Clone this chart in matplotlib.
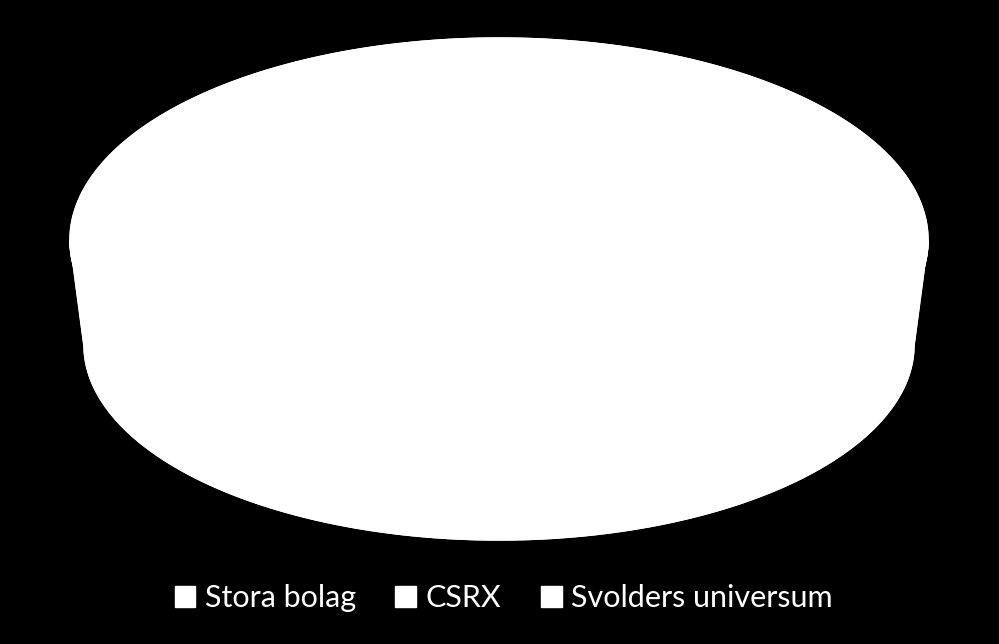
import numpy as np
import matplotlib.pyplot as plt
from matplotlib.patches import Polygon, Patch

# Slices (all drawn white in the original, so sizes are an estimate)
labels = ['Stora bolag', 'CSRX', 'Svolders universum']
values = [45, 20, 35]
colors = ['white', 'white', 'white']

# 3D pie geometry (pixel coordinates, y down)
cx = 499
top_cy, top_a, top_b = 240, 429, 202
bot_cy, bot_a, bot_b = 345, 415, 195
start_angle = 90  # degrees

fig = plt.figure(figsize=(9.99, 6.44), dpi=100, facecolor='black')
ax = fig.add_axes([0, 0, 1, 1])
ax.set_facecolor('black')
ax.set_xlim(0, 999)
ax.set_ylim(644, 0)
ax.axis('off')


def ell(t, cy, a, b):
    return np.column_stack([cx + a * np.cos(t), cy - b * np.sin(t)])


# solid silhouette underneath so wedge seams don't show
t_all = np.linspace(0, 2 * np.pi, 400)
t_front = np.linspace(np.pi, 2 * np.pi, 200)
ax.add_patch(Polygon(np.vstack([ell(t_front, top_cy, top_a, top_b),
                                ell(t_front[::-1], bot_cy, bot_a, bot_b)]),
                     closed=True, facecolor='white', edgecolor='white', lw=1))
ax.add_patch(Polygon(ell(t_all, top_cy, top_a, top_b), closed=True,
                     facecolor='white', edgecolor='white', lw=1))

fracs = np.array(values, dtype=float) / sum(values)
bounds = np.radians(start_angle) - 2 * np.pi * np.concatenate([[0], np.cumsum(fracs)])

for i, col in enumerate(colors):
    t0, t1 = bounds[i + 1], bounds[i]
    t = np.linspace(t0, t1, 200)
    tt = np.mod(t, 2 * np.pi)
    front = t[tt > np.pi]
    if len(front) > 1:
        side = np.vstack([ell(front, top_cy, top_a, top_b),
                          ell(front[::-1], bot_cy, bot_a, bot_b)])
        ax.add_patch(Polygon(side, closed=True, facecolor=col, edgecolor=col, lw=1))
    top = np.vstack([[cx, top_cy], ell(t, top_cy, top_a, top_b)])
    ax.add_patch(Polygon(top, closed=True, facecolor=col, edgecolor=col, lw=1))

handles = [Patch(facecolor=c, edgecolor=c, label=l) for c, l in zip(colors, labels)]
leg = ax.legend(handles=handles, loc='center', bbox_to_anchor=(0.504, 0.071),
                ncol=3, frameon=False, handlelength=0.68, handleheight=0.68,
                handletextpad=0.3, columnspacing=1.3,
                prop={'family': 'Lato', 'size': 22})
for txt in leg.get_texts():
    txt.set_color('white')

fig.savefig('out.png', dpi=100, facecolor='black')
